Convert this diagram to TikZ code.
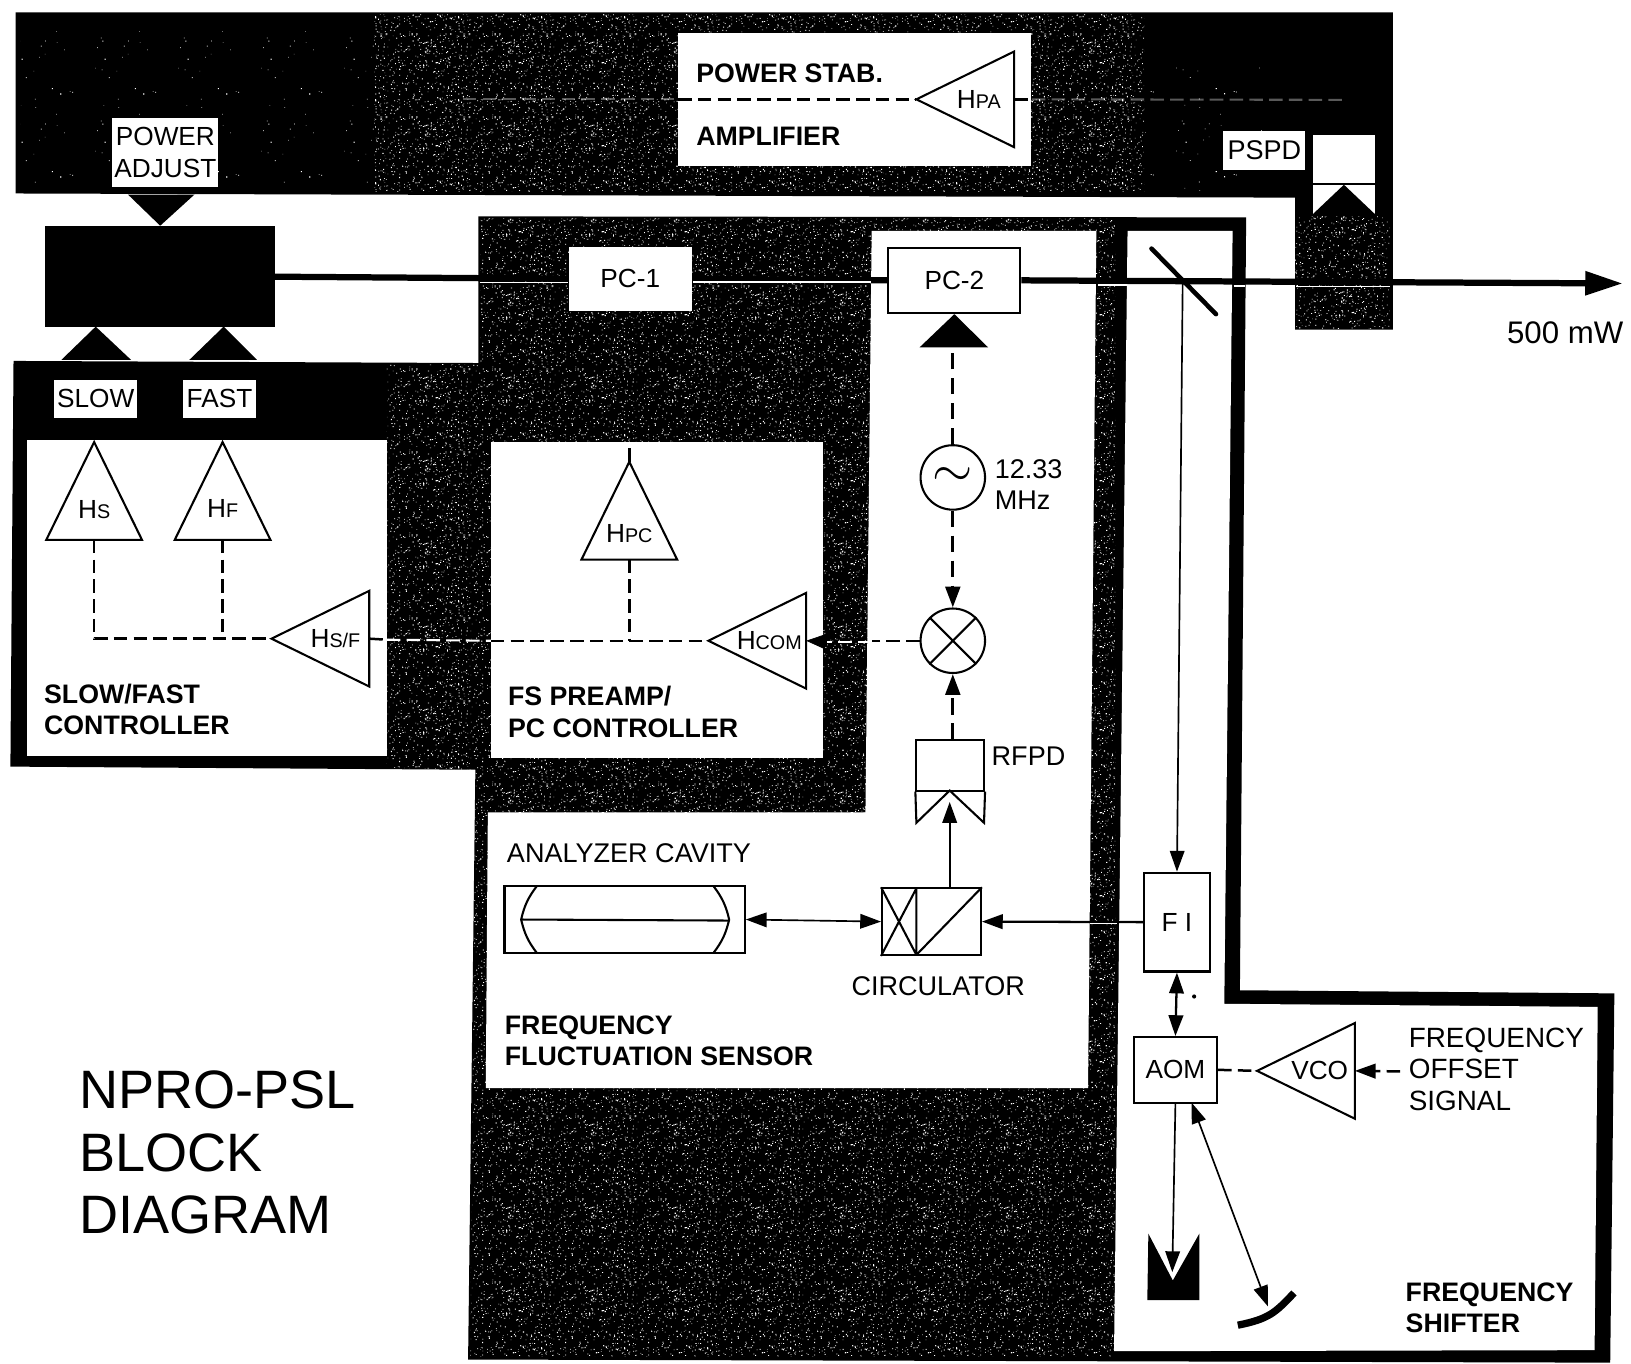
\documentclass[tikz,border=0pt]{standalone}
\usepackage{fontspec}
\setmainfont{Liberation Sans}
\usetikzlibrary{positioning, arrows.meta, shapes.geometric, patterns}

% print grain of the scanned panels, as two tiled lists of specks
\newcommand{\makegrain}[2]{%
  \gdef#1{}%
  \foreach \n in {1,...,#2}{%
    \pgfmathsetmacro\sx{40*rnd}\pgfmathsetmacro\sy{40*rnd}\pgfmathsetmacro\sw{.2+.4*rnd}\pgfmathsetmacro\sh{.2+.4*rnd}%
    \xdef#1{\unexpanded\expandafter{#1}\noexpand\pgfpathrectangle{\noexpand\pgfqpoint{\sx pt}{\sy pt}}{\noexpand\pgfqpoint{\sw pt}{\sh pt}}}%
  }}
\pgfmathsetseed{7}
\makegrain{\graindense}{420}
\makegrain{\grainthin}{22}
\pgfdeclarepatternformonly{speckle}{\pgfqpoint{0pt}{0pt}}{\pgfqpoint{40pt}{40pt}}{\pgfqpoint{40pt}{40pt}}{%
  \graindense\pgfusepath{fill}}
\pgfdeclarepatternformonly{specklethin}{\pgfqpoint{0pt}{0pt}}{\pgfqpoint{40pt}{40pt}}{\pgfqpoint{40pt}{40pt}}{%
  \grainthin\pgfusepath{fill}}
\newcommand{\hsub}[1]{H{\fontsize{9.5}{10}\selectfont #1}}
\newcommand{\hup}[1]{\raisebox{5pt}{\hsub{#1}}}

\begin{document}
\begin{tikzpicture}[x=.5pt, y=-.5pt, >={Triangle[length=10pt,width=7pt]},
    font=\fontsize{12.6}{15}\selectfont,
    speck/.style={pattern=speckle, pattern color=white},
    speckthin/.style={pattern=specklethin, pattern color=white},
    wbox/.style={fill=white, inner sep=0pt},
    block/.style={draw, fill=white, line width=1pt, inner sep=0pt},
    amp/.style={draw, isosceles triangle, isosceles triangle stretches, fill=white, outer sep=0pt,
      line width=1pt, inner sep=0pt, minimum width=46pt, minimum height=47pt},
    ring/.style={draw, circle, fill=white, line width=1pt, inner sep=0pt, minimum size=31pt},
    title/.style={font=\bfseries\fontsize{12.85}{15}\selectfont, align=left, anchor=west, inner sep=0pt},
    plain/.style={font=\fontsize{13}{15}\selectfont, align=left, anchor=west, inner sep=0pt},
    beam/.style={line width=3pt},
    ray/.style={line width=.8pt},
    sig/.style={line width=1.2pt, dash pattern=on 6.5pt off 3pt},
    sigbig/.style={line width=1.6pt, dash pattern=on 8pt off 4pt},
    sigw/.style={white, line width=1pt, dash pattern=on 6.5pt off 3pt},
    glint/.style={white, line width=.7pt}]
    \useasboundingbox (0,0) rectangle (1568,1311);
    % dark panels
    \fill (15,12) -- (1339,12) -- (1339,317) -- (1245,317) -- (1245,190) -- (15,186) -- cycle;
    \fill (460,208) -- (1198,209) -- (1192,952) -- (1552,955) -- (1548,1310) -- (450,1307)
       -- (457,740) -- (10,737) -- (13,347) -- (460,349) -- cycle;
    \fill[speckthin] (20,30) rectangle (360,180);
    \fill[speck] (360,14) rectangle (1100,184);
    \fill[speckthin] (1100,60) rectangle (1215,184);
    \fill[speck] (1245,208) rectangle (1336,316);
    \fill[speck] (462,210) -- (1072,210) -- (1072,1304) -- (452,1304) -- (457,740)
       -- (372,738) -- (372,350) -- (462,350) -- cycle;
    % white panels
    \fill[white] (652,32) rectangle (991,160);
    \fill[white] (26,423) rectangle (372,727);
    \fill[white] (472,425) rectangle (791,729);
    \fill[white] (838,222) -- (1054,222) -- (1046,1046) -- (467,1046) -- (469,781) -- (832,781) -- cycle;
    \fill[white] (1084,222) -- (1185,222) -- (1177,965) -- (1536,968) -- (1533,1298) -- (1071,1299) -- cycle;

    % laser and its inputs
    \node[fill=black, inner sep=0pt, minimum width=110.5pt, minimum height=48.5pt] (laser) at (153.5,265.5) {};
    \node[wbox, minimum width=51pt, minimum height=33.5pt, align=center] (padj) at (159,146.5) {POWER\\ADJUST};
    \node[wbox, minimum width=40pt, minimum height=18.5pt] (slow) at (92,383.5) {SLOW};
    \node[wbox, minimum width=35pt, minimum height=18.5pt] (fast) at (211,383.5) {FAST};
    \fill (123,187) -- (187,187) -- (154,217) -- cycle;
    \fill (59,346) -- (126,346) -- (92,314) -- cycle;
    \fill (182,346) -- (247,346) -- (215,314) -- cycle;

    % main beam
    \node[wbox, minimum width=59pt, minimum height=31pt] (pc1) at (606,268) {PC-1};
    \node[block, minimum width=63.5pt, minimum height=31.5pt] (pc2) at (917.5,269.5) {PC-2};
    \coordinate (out) at (1560,272.5);
    \draw[beam] (laser.east |- 0,266) -- (pc1.west);
    \draw[beam] (pc1.east) -- (pc2.west);
    \draw[beam, -{Triangle[length=18pt,width=11pt]}] (pc2.east) -- (out);
    \draw[glint] (461,271.5) -- (546,271.5);
    \draw[glint] (666,271) -- (837,271);
    \draw[glint] (1056,274) -- (1083,274);
    \draw[glint] (1186,275) -- (1197,275);
    \draw[glint] (1246,275.5) -- (1336,275.5);
    \node[font=\fontsize{15}{15}\selectfont, anchor=east, inner sep=0pt] (pow) at (1561,320) {500 mW};

    % beam splitter and power pickoff
    \coordinate (bsa) at (1107,239);
    \coordinate (bsb) at (1169,302);
    \coordinate (bs) at (1137,271);
    \draw[line width=2.2pt, line cap=round] (bsa) -- (bsb);
    \node[wbox, font=\fontsize{13}{15}\selectfont, minimum width=39.5pt, minimum height=18.5pt] (pspdl) at (1215.5,144.5) {PSPD};
    \node[fill=white, inner sep=0pt, minimum width=30pt, minimum height=23pt] (pspd) at (1292,153) {};
    \node[fill=white, inner sep=0pt, minimum width=30pt, minimum height=14pt, below=.6pt of pspd] (pspdb) {};
    \fill (pspdb.north) -- (pspdb.south east) -- (pspdb.south west) -- cycle;

    % power stabilisation amplifier
    \node[title] (lpa) at (669,70) {POWER STAB.};
    \node[title] (lpb) at (669,131) {AMPLIFIER};
    \node[amp, shape border rotate=180, anchor=apex] (hpa) at (881,95.5) {\hspace*{-4pt}\hsub{PA}};
    \draw[sig] (652,95.5) -- (hpa.apex);
    \draw[sig] (hpa.lower side) -- (991,95.5);
    \draw[sigw, opacity=.35] (445,95) -- (651,95);
    \draw[sigw, opacity=.35] (992,95.5) -- (1290,96);

    % slow fast controller
    \node[amp, shape border rotate=90, anchor=apex] (hs) at (90.5,425) {\hup{S}};
    \node[amp, shape border rotate=90, anchor=apex] (hf) at (214,425) {\hup{F}};
    \node[amp, shape border rotate=180, anchor=apex] (hsf) at (261,614) {\hsub{S/F}};
    \draw[sig] (hs.lower side) -- (hs.lower side |- hsf.apex) -- (hsf.apex);
    \draw[sig] (hf.lower side) -- (hf.lower side |- hsf.apex);
    \node[title] (lsf) at (42,682) {SLOW/FAST\\CONTROLLER};

    % preamp and pockels cell controller
    \node[amp, shape border rotate=90, anchor=apex] (hpc) at (605,444) {\hup{PC}};
    \node[amp, shape border rotate=180, anchor=apex] (hcom) at (681,616) {\hsub{COM}};
    \coordinate (hpctop) at (605,428);
    \draw[sig] (hpc.apex) -- (hpctop);
    \draw[sig] (hpc.lower side) -- (hpc.lower side |- hcom.apex);
    \draw[sig] (472,616) -- (hcom.apex);
    \draw[sigw] (372,615) -- (472,616);
    \draw[sig] (hsf.lower side) -- (372,615);
    \node[title] (lpc) at (488,684.5) {FS PREAMP/\\PC CONTROLLER};

    % rf chain
    \node[ring] (osc) at (916,459) {\Huge$\sim$};
    \node[ring] (mix) at (916,616) {};
    \draw[line width=1pt] (mix.45) -- (mix.225) (mix.135) -- (mix.-45);
    \node[plain] (lfreq) at (956,466) {12.33\\MHz};
    \fill (pc2.south) -- (884,334) -- (950,334) -- cycle;
    \draw[sigbig] (osc.north) -- (osc.north |- 0,334);
    \draw[sigbig, ->] (osc.south) -- (mix.north);
    \draw[sig] (mix.west) -- (838,616);
    \draw[sigw] (838,617) -- (795,617);
    \draw[-{Triangle[length=9pt,width=7pt]}] (795,617) -- (hcom.lower side);
    \node[block, minimum width=32.5pt, minimum height=24.5pt] (rfpd) at (913.5,735.5) {};
    \draw[line width=1pt] (rfpd.south west) -- (881,791) -- (913,760) -- (946,791) -- (rfpd.south east);
    \node[plain] (lrfpd) at (953,727) {RFPD};
    \draw[sigbig, ->] (916,711) -- (mix.south);

    % frequency fluctuation sensor
    \node[plain] (lcav) at (487,820) {ANALYZER CAVITY};
    \node[block, minimum width=115.5pt, minimum height=32pt] (cav) at (600.5,884) {};
    \draw[line width=1pt] (516,852) to[bend right=12] (501,884) to[bend right=12] (516,916);
    \draw[line width=1pt] (686,852) to[bend left=12] (701,884) to[bend left=12] (686,916);
    \draw[line width=1pt] (501,884) -- (701,885);
    \node[block, minimum width=47.5pt, minimum height=32pt] (circ) at (895.5,886) {};
    \draw[line width=1pt] (881,854) -- (881,918) (circ.north west) -- (881,918) (circ.south west) -- (881,854)
       (881,918) -- (circ.north east);
    \node[plain, anchor=center] (lcirc) at (902,948) {CIRCULATOR};
    \draw[ray, <->] (cav.east) -- (circ.west);
    \draw[ray, ->] (913,854) -- (913,771);
    \node[title] (lfs) at (485,1000.5) {FREQUENCY\\FLUCTUATION SENSOR};

    % faraday isolator and frequency shifter
    \node[block, minimum width=31.5pt, minimum height=47.5pt] (fi) at (1131.5,886.5) {F I};
    \draw[ray, ->] (bs) -- (fi.north);
    \draw[line width=1.1pt, ->] (fi.west) -- (circ.east);
    \draw[glint] (1048,888) -- (1074,888);
    \node[block, minimum width=40pt, minimum height=31.5pt] (aom) at (1130,1028.5) {AOM};
    \draw[line width=1.1pt, <->] (fi.south) -- (aom.north);
    \fill (1148,958) circle (2);
    \node[amp, shape border rotate=180, anchor=apex] (vco) at (1208.5,1029.5) {VCO};
    \draw[sig] (aom.east) -- (vco.apex);
    \coordinate (offs) at (1346,1030);
    \draw[sig, ->] (offs) -- (vco.lower side);
    \node[plain, font=\fontsize{13.4}{15}\selectfont] (loffs) at (1354,1028) {FREQUENCY\\OFFSET\\SIGNAL};
    \fill (1104,1186) -- (1127.5,1231) -- (1153,1186) -- (1153,1250) -- (1103,1250) -- cycle;
    \coordinate (dumptip) at (1127,1223);
    \draw[ray, ->] (aom.south) -- (dumptip);
    \coordinate (mirtip) at (1219,1256);
    \coordinate (aomb) at (1145.5,1060);
    \draw[ray, <->] (aomb) -- (mirtip);
    \draw[line width=3.5pt] (1190,1274) .. controls (1220,1268) and (1226,1262) .. (1244,1243);
    \node[title] (lshift) at (1351,1257.5) {FREQUENCY\\SHIFTER};

    % caption
    \node[plain, font=\fontsize{26}{30}\selectfont] (cap) at (76,1108) {NPRO-PSL\\BLOCK\\DIAGRAM};
  \end{tikzpicture}
\end{document}
